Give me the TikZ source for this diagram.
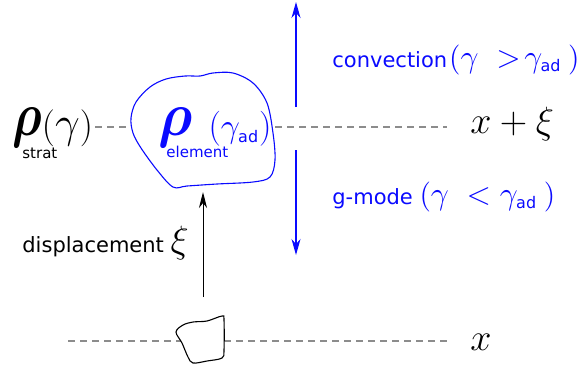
\RequirePackage{fix-cm}
\documentclass[tikz,border=0pt]{standalone}
\usepackage{amsmath}
\usepackage{fontspec}
\setsansfont{DejaVu Sans}
\usepackage{xcolor}
\usepackage{tikz}
\usetikzlibrary{arrows.meta,calc,positioning}
\definecolor{parcelblue}{RGB}{10,10,255}
\definecolor{levelgray}{RGB}{140,140,140}
\newcommand{\mathbig}{\fontsize{19}{19}\selectfont}
\newcommand{\mathmid}{\fontsize{16}{16}\selectfont}
\newcommand{\adsub}{\mbox{\fontsize{8}{8}\selectfont\sffamily ad}}
\newcommand{\rhobig}[1]{\raisebox{1pt}{\scalebox{#1}[1]{\fontsize{31}{31}\selectfont$\boldsymbol{\rho}$}}}
\newcommand{\parsz}[2]{{\fontsize{#1}{#1}\selectfont$#2$}}

\begin{document}
\begin{tikzpicture}[x=0.5pt,y=-0.5pt,
  level/.style={levelgray,line width=0.7pt,dash pattern=on 3.5pt off 2.5pt},
  lbl/.style={inner sep=0pt,anchor=base west},
  sans/.style={font=\fontsize{10.5}{12}\sffamily},
  small/.style={font=\fontsize{7.5}{9}\sffamily},
  mathlbl/.style={font=\mathbig},
  motion/.style={parcelblue,line width=0.6pt,-{Stealth[length=8pt,width=4.5pt,inset=2.5pt]}}]
  \useasboundingbox (0,0) rectangle (585,372);
  % the two levels
  \coordinate (topL) at (95,127);
  \coordinate (topR) at (447,127);
  \coordinate (botL) at (68,341);
  \coordinate (botR) at (447,341);
  \draw[level] (topL) -- (topR);
  \draw[level] (botL) -- (botR);
  % displaced element and its starting shape
  \draw[parcelblue,line width=0.55pt,fill=white] plot[smooth cycle,tension=0.55] coordinates {
    (131,118) (136,102) (150,87) (166,79) (185,76) (200,76) (213,73) (233,73)
    (253,83) (267,103) (273,133) (275,160) (270,177) (253,182) (217,184)
    (187,186) (173,187) (157,170) (141,148) (133,133)};
  \draw[line width=0.55pt,fill=white] plot[smooth cycle,tension=0.55] coordinates {
    (176,332) (183,325) (193,322) (207,321) (222,316) (224,320) (224,350)
    (222,358) (207,361) (193,363) (188,357) (182,343)};
  % arrows
  \coordinate (dispfoot) at (203,297);
  \coordinate (disptip) at (203,192);
  \coordinate (convfoot) at (296,107);
  \coordinate (convtip) at (296,2);
  \coordinate (gfoot) at (296,150);
  \coordinate (gtip) at (296,255);
  \draw[line width=0.5pt,-{Stealth[length=8pt,width=4pt,inset=2.5pt]}] (dispfoot) -- (disptip);
  \draw[motion] (convfoot) -- (convtip);
  \draw[motion] (gfoot) -- (gtip);
  % labels
  \node[lbl,mathlbl] (rhostrat) at (12,137)
    {\rhobig{0.78}\parsz{18.5}{(}\parsz{22}{\gamma}\parsz{18.5}{)}};
  \node[lbl,small] (stratlbl) at (22,158) {strat};
  \node[lbl,mathlbl,text=parcelblue] (rhoelem) at (158,137)
    {\rhobig{0.9}\hspace{8pt}\parsz{17.5}{(}\parsz{17}{\gamma_{\adsub}}\parsz{17.5}{)}};
  \node[lbl,small,text=parcelblue] (elemlbl) at (166,157) {element};
  \node[lbl,sans,text=parcelblue] (convlbl) at (332,67)
    {convection\hspace{1pt}\parsz{15}{(}{\mathmid$\gamma\;>\!\gamma_{\adsub}$}\ \parsz{15}{)}};
  \node[lbl,sans,text=parcelblue] (gmodelbl) at (332,204)
    {g-mode \parsz{15}{(}{\mathmid$\gamma\;<\gamma_{\adsub}$}\ \parsz{15}{)}};
  \node[lbl,sans] (displbl) at (22,252) {displacement {\mathbig$\xi$}};
  \node[lbl,mathlbl] (uplevel) at (470,133) {$x+\xi$};
  \node[lbl,mathlbl] (lowlevel) at (470,350) {$x$};
\end{tikzpicture}
\end{document}
